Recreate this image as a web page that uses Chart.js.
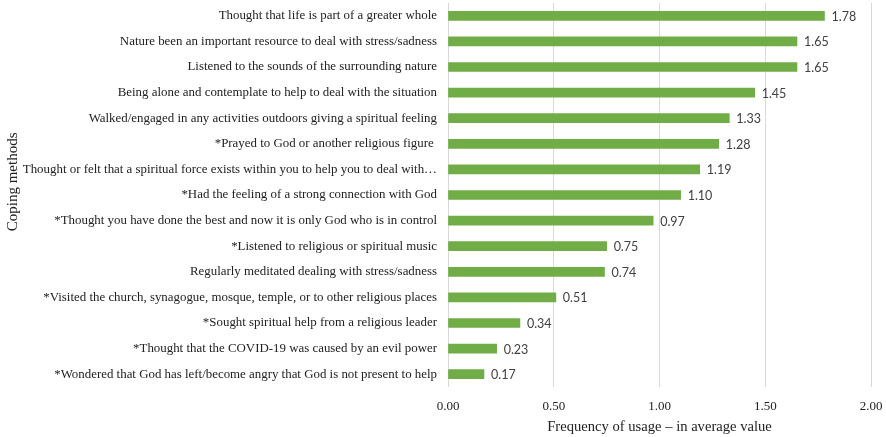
<!DOCTYPE html>
<html>
<head>
<meta charset="utf-8">
<script src="https://cdn.jsdelivr.net/npm/chart.js@4"></script>
<style>
  html, body { margin: 0; padding: 0; background: #fff; }
  #wrap { width: 886px; height: 437px; }
</style>
</head>
<body>
<div id="wrap"><canvas id="copingChart" width="886" height="437"></canvas></div>
<script>
// Coping methods and their mean frequency of usage
const methods = [
    'Thought that life is part of a greater whole',
    'Nature been an important resource to deal with stress/sadness',
    'Listened to the sounds of the surrounding nature',
    'Being alone and contemplate to help to deal with the situation',
    'Walked/engaged in any activities outdoors giving a spiritual feeling',
    '*Prayed to God or another religious figure ',
    'Thought or felt that a spiritual force exists within you to help you to deal with\u2026',
    '*Had the feeling of a strong connection with God',
    '*Thought you have done the best and now it is only God who is in control',
    '*Listened to religious or spiritual music',
    'Regularly meditated dealing with stress/sadness',
    '*Visited the church, synagogue, mosque, temple, or to other religious places',
    '*Sought spiritual help from a religious leader',
    '*Thought that the COVID-19 was caused by an evil power',
    '*Wondered that God has left/become angry that God is not present to help'
];
const meanValues = [1.78, 1.65, 1.65, 1.45, 1.33, 1.28, 1.19, 1.10, 0.97, 0.75, 0.74, 0.51, 0.34, 0.23, 0.17];
const xTicks = [0, 0.5, 1, 1.5, 2];

const serif = '"Liberation Serif", "Times New Roman", serif';

// value printed just past the end of each bar
const valueLabels = {
    id: 'valueLabels',
    afterDatasetsDraw(chart) {
        const ctx = chart.ctx;
        const meta = chart.getDatasetMeta(0);
        ctx.save();
        ctx.font = '12.5px Lato, "Open Sans", sans-serif';
        ctx.fillStyle = '#404040';
        ctx.textAlign = 'left';
        ctx.textBaseline = 'middle';
        meta.data.forEach((bar, i) => {
            ctx.fillText(meanValues[i].toFixed(2), bar.x + 7, bar.y + 1);
        });
        ctx.restore();
    }
};

new Chart(document.getElementById('copingChart'), {
    type: 'bar',
    data: {
        labels: methods,
        datasets: [{
            data: meanValues,
            backgroundColor: '#70AD47',
            barThickness: 9
        }]
    },
    plugins: [valueLabels],
    options: {
        indexAxis: 'y',
        responsive: false,
        animation: false,
        layout: { padding: { top: 3, right: 15, bottom: 0, left: 0 } },
        plugins: {
            legend: { display: false },
            tooltip: { enabled: false }
        },
        scales: {
            x: {
                min: 0,
                max: 2,
                afterBuildTicks(scale) {
                    scale.ticks = xTicks.map(v => ({ value: v }));
                },
                afterFit(scale) {
                    scale.height = 50;
                    scale.paddingLeft = 0;
                    scale.paddingRight = 0;
                },
                grid: { color: '#d9d9d9', drawTicks: false },
                border: { display: false },
                ticks: {
                    padding: 12,
                    color: '#222',
                    font: { family: serif, size: 13 },
                    callback: v => v.toFixed(2)
                },
                title: {
                    display: true,
                    text: 'Frequency of usage \u2013 in average value',
                    color: '#222',
                    font: { family: serif, size: 14.6 },
                    padding: { top: 0, bottom: 1 }
                }
            },
            y: {
                afterFit(scale) {
                    scale.width = 448;
                    scale.paddingTop = 0;
                    scale.paddingBottom = 0;
                },
                grid: { display: false },
                border: { display: false },
                ticks: {
                    padding: 3,
                    autoSkip: false,
                    color: '#222',
                    font: { family: serif, size: 12.9 }
                },
                title: {
                    display: true,
                    // leading spaces nudge the rotated title up a little
                    text: '       Coping methods',
                    color: '#222',
                    font: { family: serif, size: 15 },
                    padding: { top: 4, bottom: 0 }
                }
            }
        }
    }
});
</script>
</body>
</html>
